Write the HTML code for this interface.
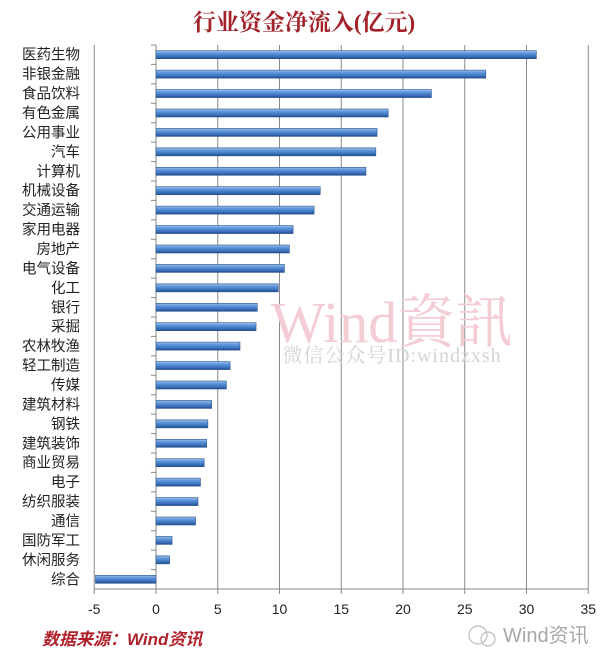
<!DOCTYPE html>
<html><head><meta charset="utf-8"><style>
body{margin:0;background:#fff}
svg{display:block}
</style></head><body>
<svg width="609" height="662" viewBox="0 0 609 662" xmlns="http://www.w3.org/2000/svg">
<defs>
<linearGradient id="bg" x1="0" y1="0" x2="0" y2="1">
<stop offset="0" stop-color="#9cc0ec"/>
<stop offset="0.35" stop-color="#5b92d8"/>
<stop offset="0.75" stop-color="#3a6fb8"/>
<stop offset="1" stop-color="#1f4a86"/>
</linearGradient>
</defs>
<text x="304" y="30" text-anchor="middle" font-family="'Liberation Serif','Noto Serif CJK SC',serif" font-size="23" font-weight="bold" fill="#a3222a">行业资金净流入(亿元)</text>
<g id="grid" stroke="#8a8a8a" stroke-width="1"></g>
<text x="392" y="342" text-anchor="middle" font-family="'Liberation Serif','Noto Serif CJK TC',serif" font-size="58" fill="#f4ccd3">Wind資訊</text>
<text x="392" y="362" text-anchor="middle" font-family="'Liberation Serif','Noto Serif CJK SC',serif" font-size="20" fill="#d4d4d4" letter-spacing="1">微信公众号ID:windzxsh</text>
<g id="bars"></g>
<g id="labels" font-family="'Liberation Sans','Noto Sans CJK SC',sans-serif" font-size="14.5" fill="#222" text-anchor="end"></g>
<g id="ticks" font-family="'Liberation Sans',sans-serif" font-size="14" fill="#222" text-anchor="middle"></g>
<text x="42" y="645" font-family="'Liberation Sans','Noto Sans CJK SC',sans-serif" font-size="17" font-weight="bold" font-style="italic" fill="#b0202a">数据来源：Wind资讯</text>
<circle cx="478" cy="635" r="9" fill="none" stroke="#bbb" stroke-width="1.2"/>
<circle cx="488" cy="639" r="7" fill="none" stroke="#bbb" stroke-width="1.2"/>
<text x="503" y="642" font-family="'Liberation Sans','Noto Sans CJK SC',sans-serif" font-size="20" fill="#a8a8a8">Wind资讯</text>
</svg>
<script>
var ns="http://www.w3.org/2000/svg";
function el(t,a,p){var e=document.createElementNS(ns,t);for(var k in a)e.setAttribute(k,a[k]);p.appendChild(e);return e;}
var Z=156,U=12.35,T=45,B=589,n=28,step=(B-T)/n;
var cats=["医药生物","非银金融","食品饮料","有色金属","公用事业","汽车","计算机","机械设备","交通运输","家用电器","房地产","电气设备","化工","银行","采掘","农林牧渔","轻工制造","传媒","建筑材料","钢铁","建筑装饰","商业贸易","电子","纺织服装","通信","国防军工","休闲服务","综合"];
var vals=[30.8,26.7,22.3,18.8,17.9,17.8,17.0,13.3,12.8,11.1,10.8,10.4,9.9,8.2,8.1,6.8,6.0,5.7,4.5,4.2,4.1,3.9,3.6,3.4,3.2,1.3,1.1,-4.9];
var g=document.getElementById("grid"),b=document.getElementById("bars"),l=document.getElementById("labels"),t=document.getElementById("ticks");
for(var v=-5;v<=35;v+=5){var x=Z+v*U;if(v!=0)el("line",{x1:x,y1:T,x2:x,y2:B},g);el("line",{x1:x,y1:B,x2:x,y2:B+5},g);var tx=el("text",{x:x,y:614},t);tx.textContent=v;}
el("line",{x1:Z+-5*U,y1:B,x2:Z+35*U,y2:B},g);
el("line",{x1:Z,y1:T,x2:Z,y2:B},g);
for(var i=0;i<=n;i++){var y=T+i*step;el("line",{x1:Z-5,y1:y,x2:Z,y2:y},g);}
for(var i=0;i<n;i++){var c=T+step*(i+0.5);var x1=Z,x2=Z+vals[i]*U;var x=Math.min(x1,x2),w=Math.abs(x2-x1);
el("rect",{x:x,y:c-4,width:w,height:8,fill:"url(#bg)",stroke:"#2a5590","stroke-width":0.6},b);
var tx=el("text",{x:80,y:c+5},l);tx.textContent=cats[i];}
</script>
</body></html>
